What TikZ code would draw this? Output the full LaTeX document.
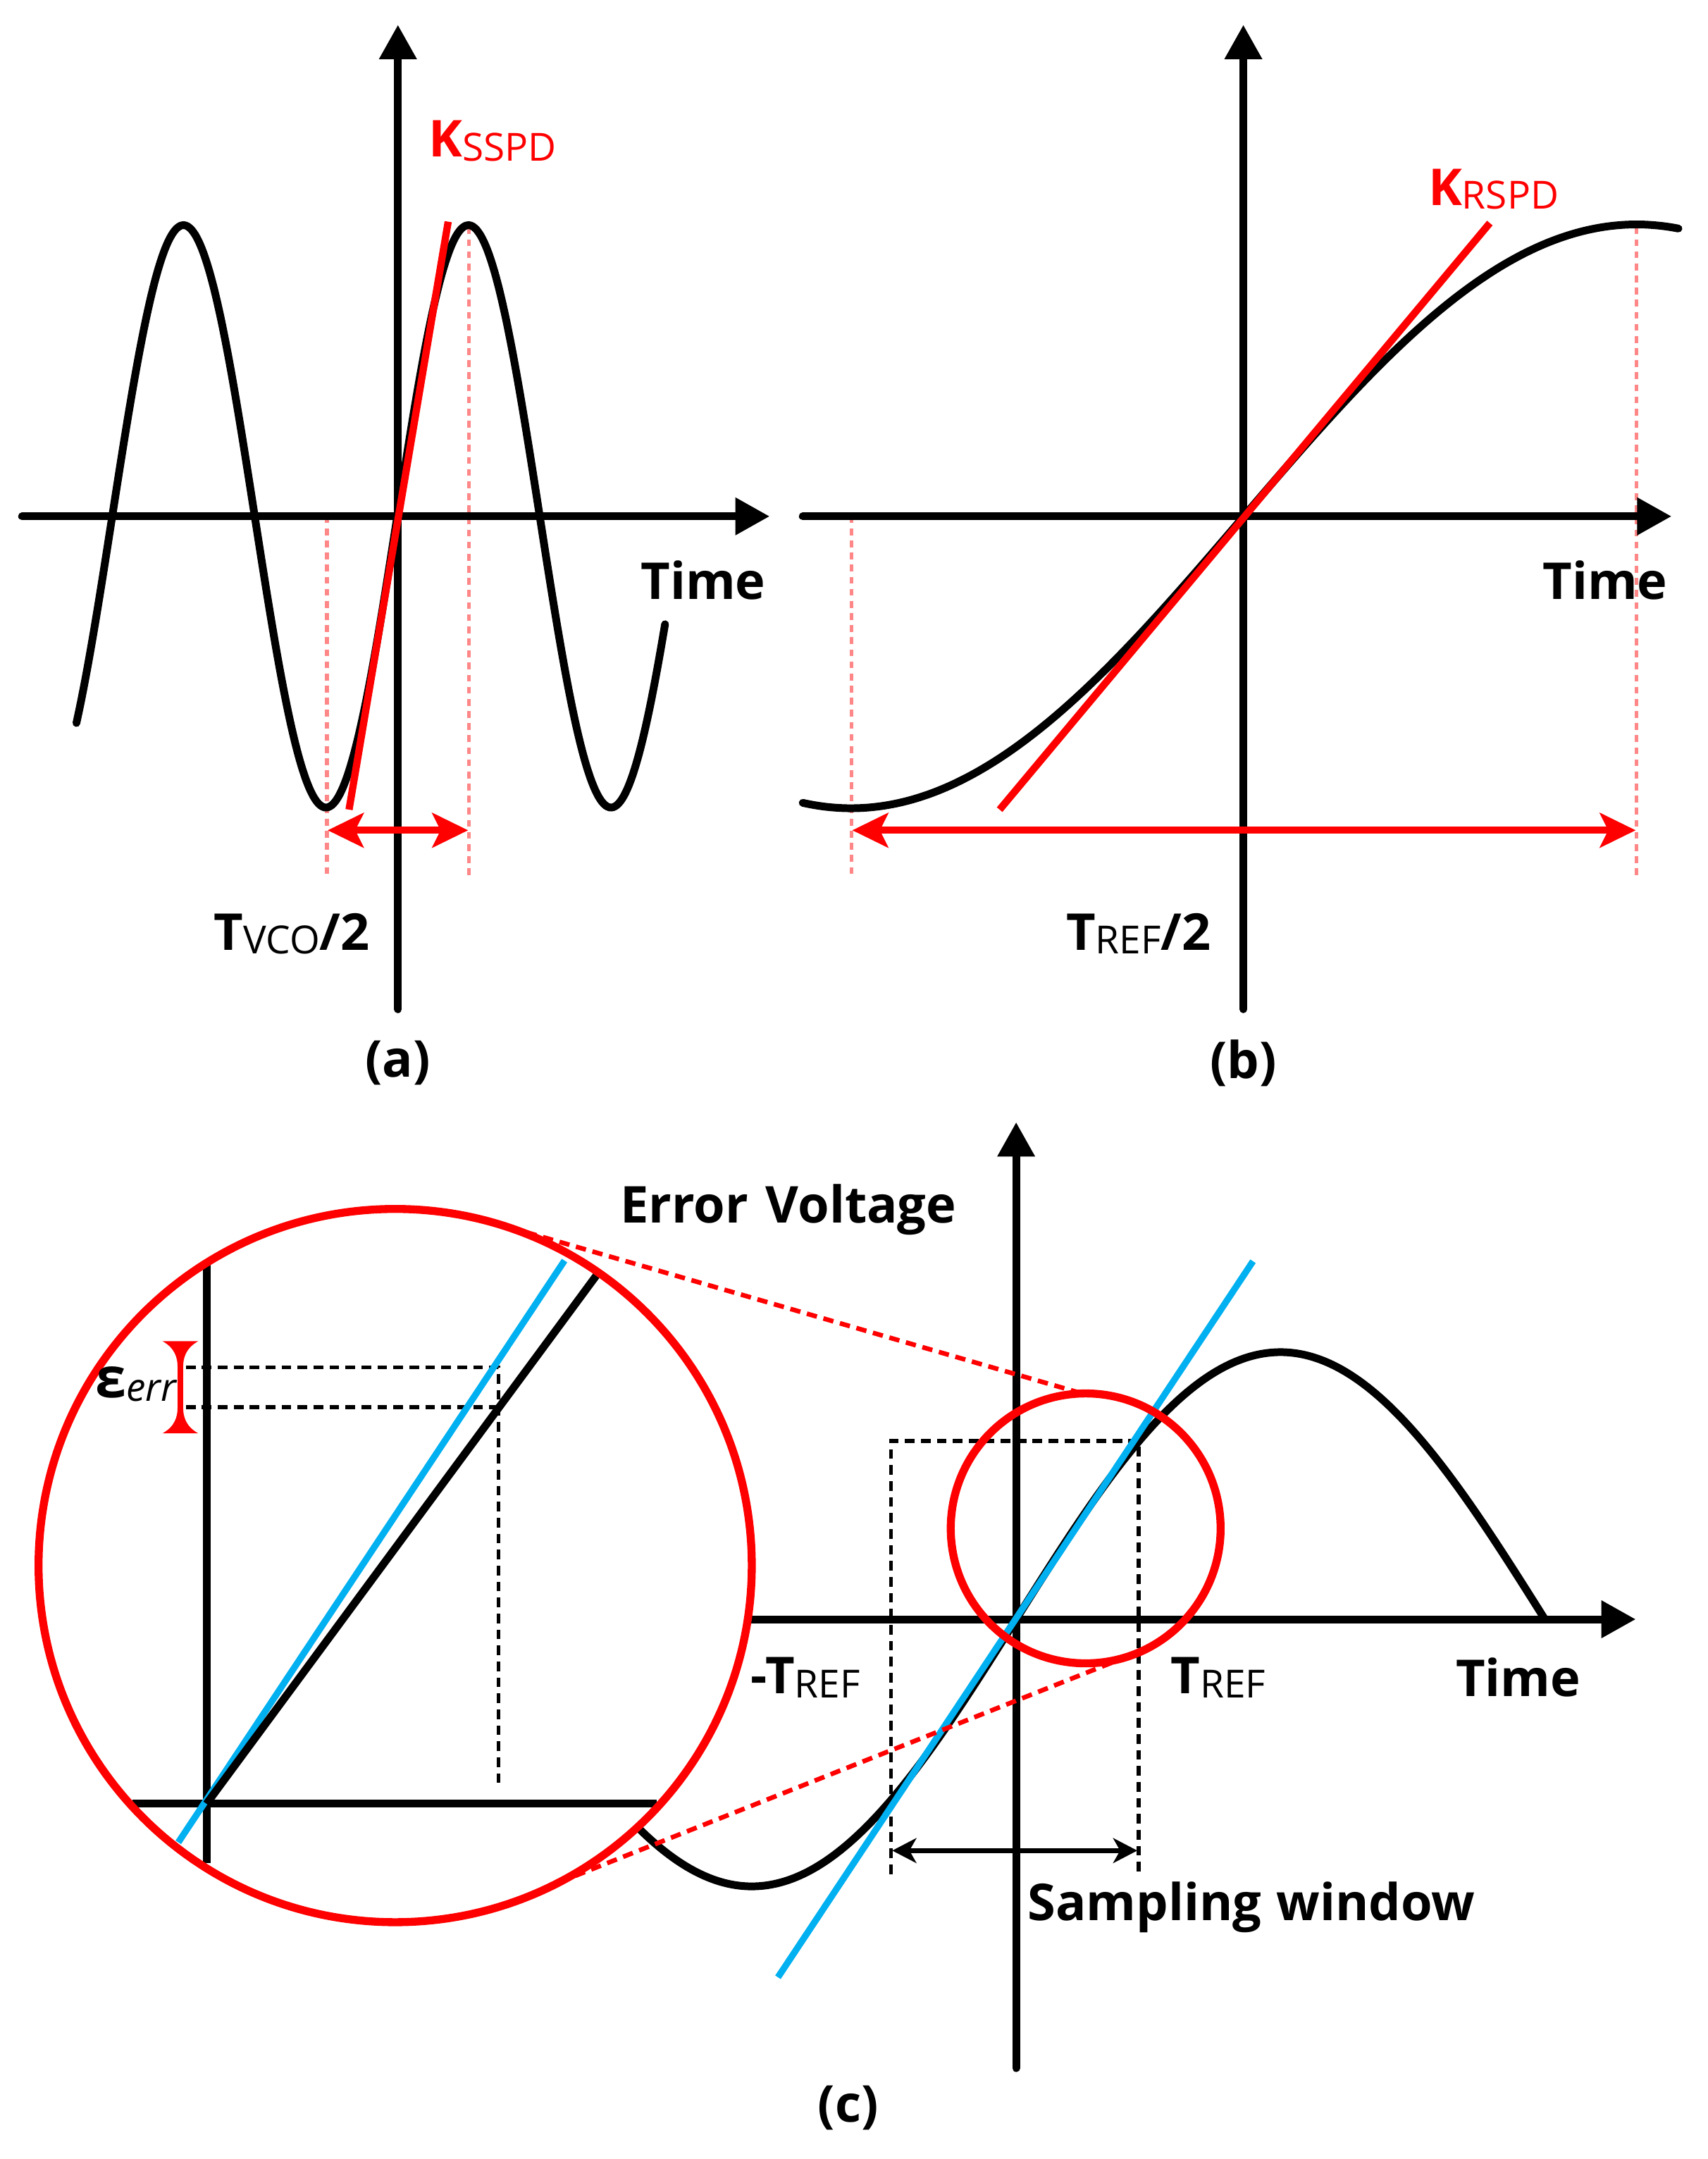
\documentclass[tikz,border=0pt]{standalone}
\usepackage{fontspec}
\setmainfont{Open Sans}
\usetikzlibrary{arrows.meta, calc}
\definecolor{wavered}{RGB}{255,0,0}
\definecolor{slopeblue}{RGB}{0,176,240}
\definecolor{guidered}{RGB}{255,135,135}

% pedice non grassetto
\newcommand{\subs}[1]{\raisebox{-1.6pt}{\mdseries\fontsize{16pt}{16pt}\selectfont #1}}

\begin{document}
\begin{tikzpicture}[x=0.02cm, y=-0.02cm,
    axis/.style={line width=3.2pt, line cap=round, -{Triangle[length=0.5cm,width=0.52cm]}},
    wave/.style={line width=3.2pt, line cap=round},
    slope/.style={wavered, line width=3pt},
    guide/.style={guidered, line width=1.6pt, dash pattern=on 2.8pt off 2.2pt},
    period/.style={wavered, line width=2.9pt, {Stealth[length=0.52cm,width=0.5cm,inset=0.12cm]}-{Stealth[length=0.52cm,width=0.5cm,inset=0.12cm]}},
    window/.style={line width=2pt, {Stealth[length=0.35cm,width=0.36cm,inset=0.1cm]}-{Stealth[length=0.35cm,width=0.36cm,inset=0.1cm]}},
    blackdash/.style={line width=1.6pt, dash pattern=on 4pt off 2.6pt},
    zoomline/.style={wavered, line width=1.9pt, dash pattern=on 4.3pt off 2.8pt},
    ring/.style={wavered, line width=3.3pt},
    lbl/.style={font=\fontsize{21pt}{25pt}\selectfont\bfseries, inner sep=0pt}]
    \useasboundingbox (0,0) rectangle (1240,1568);

    % Pannello (a)
    \draw[guide] (237.5,375) -- (237.5,637);
    \draw[guide] (340.5,165) -- (340.5,637);
    \draw[axis] (289,733) -- (289,18);
    \draw[axis] (16,375) -- (559,375);
    \draw[wave] plot[domain=55.5:483, samples=160, smooth] (\x,{375-211.5*sin(1.73913*(\x-288.5))});
    \draw[slope] (253.5,588) -- (325.5,161);
    \draw[period] (238,603) -- (340,603);
    \node[lbl, wavered, anchor=base west] (kss) at (311,114) {K\subs{SSPD}};
    \node[lbl, anchor=base west] (tvco) at (155,690) {T\subs{VCO}/2};
    \node[lbl, anchor=base west] (timea) at (465,435) {Time};
    \node[lbl] (capa) at (289,772) {(a)};

    % Pannello (b)
    \draw[guide] (618.5,375) -- (618.5,637);
    \draw[guide] (1188.5,165) -- (1188.5,637);
    \draw[axis] (903,733) -- (903,18);
    \draw[axis] (583,375) -- (1214,375);
    \draw[wave] plot[domain=583:1219, samples=160, smooth] (\x,{375-212*sin(0.315513*(\x-903.3))});
    \draw[slope] (726,588) -- (1082,162);
    \draw[period] (619,603) -- (1188,603);
    \node[lbl, wavered, anchor=base west] (krs) at (1037,149) {K\subs{RSPD}};
    \node[lbl, anchor=base west] (timeb) at (1120,435) {Time};
    \node[lbl, anchor=base west] (tref) at (774,690) {T\subs{REF}/2};
    \node[lbl] (capb) at (903,772) {(b)};

    % Pannello (c)
    \coordinate (bigc) at (287,1137);
    \coordinate (smallc) at (788.5,1110);
    \draw[blackdash] (647,1361) -- (647,1046.5) -- (827,1046.5) -- (827,1361);
    \draw[axis] (738,1502) -- (738,815);
    \draw[axis] (545,1176) -- (1188,1176);
    \draw[wave] plot[domain=465:1122, samples=160, smooth] (\x,{1176-194*sin(0.46875*(\x-738))});
    \draw[slopeblue, line width=2.7pt] (565,1436) -- (910,916);
    \draw[ring] (smallc) circle[radius=98];
    \draw[window] (648,1344) -- (826,1344);
    \node[lbl, anchor=base west] (errv) at (450,888) {Error\hspace{0.35em}Voltage};
    \node[lbl, anchor=base west] (mtref) at (545,1230) {-T\subs{REF}};
    \node[lbl, anchor=base west] (ptref) at (850,1230) {T\subs{REF}};
    \node[lbl, anchor=base west] (timec) at (1057,1232) {Time};
    \node[lbl, anchor=base west] (sampw) at (746,1395) {Sampling\hspace{0.3em}window};
    \node[lbl] (capc) at (616,1531) {(c)};

    % Lente di ingrandimento
    \draw[blackdash] (135,993) -- (362,993) -- (362,1298);
    \draw[blackdash] (135,1022) -- (362,1022);
    \draw[wave, line cap=butt] (96,1310) -- (477,1310);
    \draw[wave, line cap=butt] (150,918) -- (150,1353);
    \draw[slopeblue, line width=2.7pt] (129.5,1338) -- (410,915.5);
    \draw[wave, line cap=butt] (150,1310) -- (433,926.5);
    \draw[ring] (bigc) circle[radius=259];
    \draw[zoomline] ($(bigc)+(-74:259)$) -- ($(smallc)+(-91.5:98)$);
    \draw[zoomline] ($(bigc)+(62.6:259)$) -- ($(smallc)+(73.3:98)$);
    \fill[wavered] (118,974) -- (144,974) .. controls (135,979) and (133,986) .. (133,993) -- (129,993) .. controls (129,986) and (127,979) .. cycle;
    \fill[wavered] (118,1041) -- (144,1041) .. controls (135,1036) and (133,1029) .. (133,1022) -- (129,1022) .. controls (129,1029) and (127,1036) .. cycle;
    \draw[wavered, line width=2.2pt] (131,992) -- (131,1023);
    \node[anchor=base west, inner sep=0pt] (eerr) at (69,1015) {\fontsize{23pt}{23pt}\selectfont\bfseries ε\raisebox{-1.5pt}{\mdseries\itshape\fontsize{16pt}{16pt}\selectfont err}};
\end{tikzpicture}
\end{document}
